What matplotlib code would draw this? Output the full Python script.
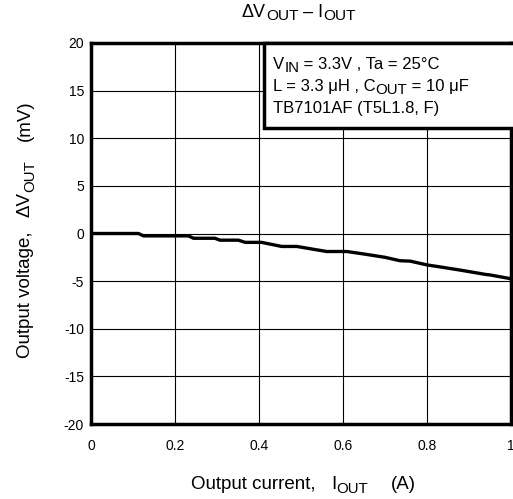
import matplotlib
matplotlib.use('Agg')
import matplotlib.pyplot as plt
from matplotlib.patches import Rectangle
from matplotlib.transforms import IdentityTransform

plt.rcParams['font.family'] = ['Liberation Sans', 'DejaVu Sans']

# Output current (A) vs output voltage change (mV)
iout = [0, 0.113, 0.125, 0.232, 0.244, 0.295, 0.307, 0.351, 0.367, 0.406, 0.454,
        0.49, 0.561, 0.609, 0.648, 0.70, 0.736, 0.76, 0.80, 0.83, 0.88, 0.94, 0.95, 1.0]
dvout = [0, 0, -0.25, -0.25, -0.5, -0.5, -0.7, -0.7, -0.93, -0.93, -1.36,
         -1.36, -1.89, -1.89, -2.14, -2.5, -2.86, -2.9, -3.3, -3.5, -3.85, -4.3, -4.35, -4.75]

xticks = [0, 0.2, 0.4, 0.6, 0.8, 1.0]
xtick_labels = ['0', '0.2', '0.4', '0.6', '0.8', '1']
yticks = [20, 15, 10, 5, 0, -5, -10, -15, -20]
ytick_labels = ['20', '15', '10', '5', '0', '-5', '-10', '-15', '-20']

# text pieces: (text, is_subscript) or a number = gap in pixels
title_parts = [('ΔV', 0), ('OUT', 1), (' – I', 0), ('OUT', 1)]
xlabel_parts = [('Output current,', 0), 16, ('I', 0), ('OUT', 1), 23, ('(A)', 0)]
ylabel_parts = [('Output voltage,', 0), 14, ('ΔV', 0), ('OUT', 1), 20, ('(mV)', 0)]
notes = [
    [('V', 0), ('IN', 1), (' = 3.3V , Ta = 25°C', 0)],
    [('L = 3.3 μH , C', 0), ('OUT', 1), (' = 10 μF', 0)],
    [('TB7101AF (T5L1.8, F)', 0)],
]

W, H = 513, 499
fig = plt.figure(figsize=(W / 100, H / 100), dpi=100)
ax = fig.add_axes([91 / W, 1 - 424 / H, 420 / W, 381 / H])
renderer = fig.canvas.get_renderer()


def measure(s, fs):
    t = fig.text(0, 0, s + '|', fontsize=fs)
    w1 = t.get_window_extent(renderer).width
    t.set_text('|')
    w2 = t.get_window_extent(renderer).width
    t.remove()
    return w1 - w2


def rich(x, y, parts, fs, align='left', rotation=0, sub_scale=0.9, lower=3.5):
    # x, y in picture pixels from the top-left, y (or x when rotated) is the baseline
    items = []
    total = 0
    for p in parts:
        if isinstance(p, (int, float)):
            items.append((None, p, 0, 0))
            total += p
            continue
        s, sub = p
        size = fs * sub_scale if sub else fs
        w = measure(s, size)
        items.append((s, w, sub, size))
        total += w
    pos = -total / 2 if align == 'center' else 0
    x0, y0 = x, H - y
    for s, w, sub, size in items:
        if s is not None:
            if rotation == 0:
                px, py = x0 + pos, y0 - lower * sub
            else:
                px, py = x0 + lower * sub, y0 + pos
            fig.text(px, py, s, fontsize=size, ha='left', va='baseline',
                     rotation=rotation, rotation_mode='anchor',
                     transform=IdentityTransform())
        pos += w


ax.plot(iout, dvout, color='black', linewidth=2.4, solid_joinstyle='round', zorder=3)

ax.set_xlim(0, 1)
ax.set_ylim(-20, 20)
ax.set_xticks(xticks)
ax.set_xticklabels(xtick_labels)
ax.set_yticks(yticks)
ax.set_yticklabels(ytick_labels)
ax.tick_params(length=0, labelsize=10, pad=5)
ax.tick_params(axis='x', pad=11)
ax.grid(True, color='black', linewidth=0.8)
for sp in ax.spines.values():
    sp.set_linewidth(2.5)

# condition box in the upper right
box = Rectangle((0.412, 11.1), 0.6, 8.9, facecolor='white', edgecolor='black',
                linewidth=2.5, zorder=4, clip_on=False)
ax.add_patch(box)
for k, parts in enumerate(notes):
    rich(273, 69 + k * 22.2, parts, 12, lower=3)

rich(299, 17, title_parts, 13, align='center', sub_scale=0.85)
rich(303.5, 489, xlabel_parts, 13.5, align='center', sub_scale=0.8, lower=4)
rich(30, 229, ylabel_parts, 13.5, align='center', rotation=90, sub_scale=0.8, lower=4)

fig.savefig('out.png', dpi=100)
